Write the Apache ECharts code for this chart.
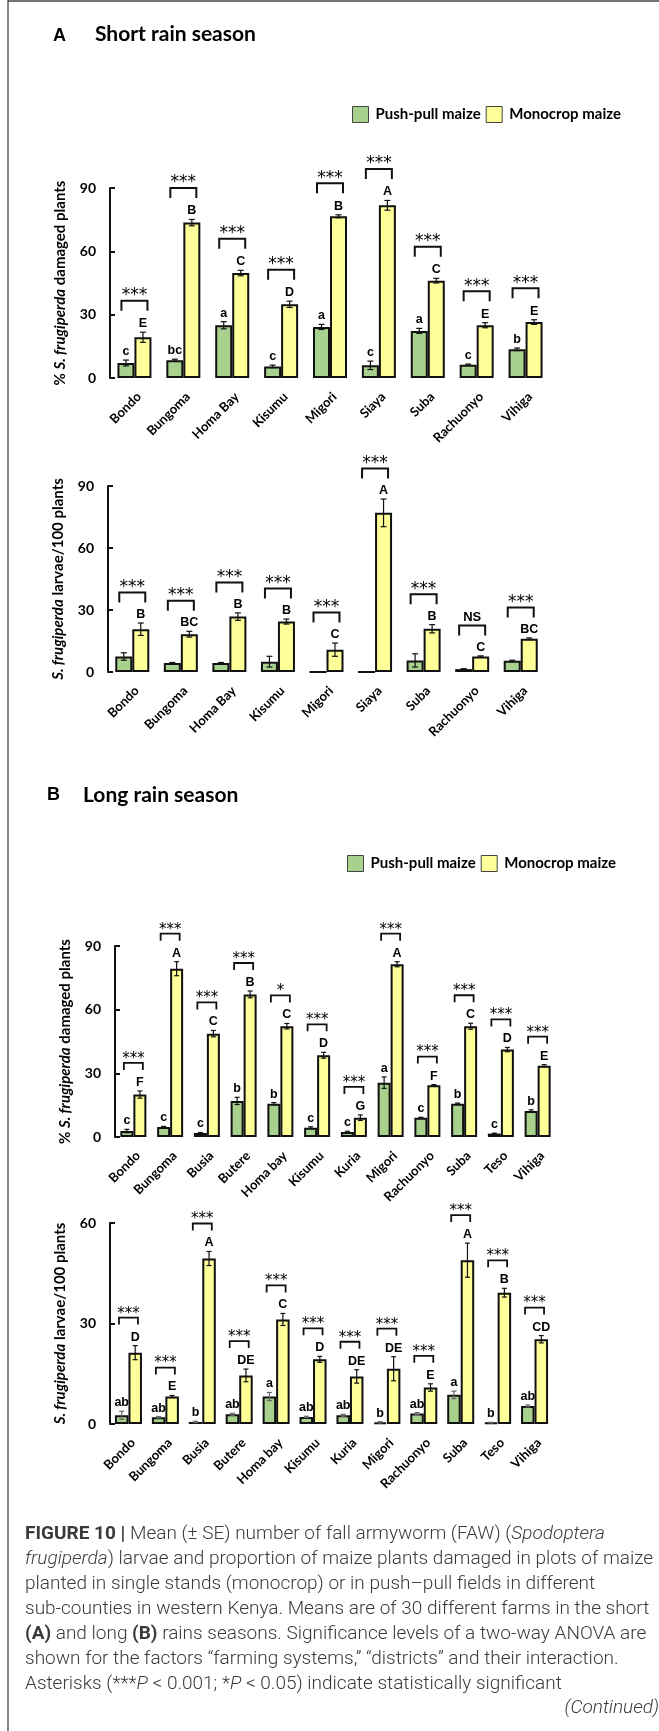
<!DOCTYPE html>
<html>
<head>
<meta charset="utf-8">
<script src="https://cdn.jsdelivr.net/npm/echarts@6/dist/echarts.min.js"></script>
<style>
  html, body { margin: 0; padding: 0; background: #fff; }
  #chart { width: 659px; height: 1731px; }
</style>
</head>
<body>
<div id="chart"></div>
<script>
// ---------- Short rain season ----------
const districtsShort = ['Bondo', 'Bungoma', 'Homa Bay', 'Kisumu', 'Migori', 'Siaya', 'Suba', 'Rachuonyo', 'Vihiga'];

// % S. frugiperda damaged plants
const damageShortPP = [7.1, 8.4, 25.0, 5.5, 24.2, 6.0, 22.3, 6.3, 13.6];
const damageShortPPSE = [1.4, 0.5, 1.7, 0.6, 1.2, 2.0, 1.2, 0.3, 0.6];
const damageShortMono = [19.3, 73.6, 49.7, 34.9, 76.6, 81.8, 46.1, 25.0, 26.5];
const damageShortMonoSE = [2.4, 1.5, 1.3, 1.5, 0.7, 2.3, 1.1, 1.2, 1.1];
const damageShortPPLetters = ['c', 'bc', 'a', 'c', 'a', 'c', 'a', 'c', 'b'];
const damageShortMonoLetters = ['E', 'B', 'C', 'D', 'B', 'A', 'C', 'E', 'E'];
const damageShortSig = ['***', '***', '***', '***', '***', '***', '***', '***', '***'];

// S. frugiperda larvae / 100 plants
const larvaeShortPP = [7.5, 4.3, 4.3, 5.0, 0, 0, 5.6, 1.4, 5.4];
const larvaeShortPPSE = [1.8, 0.3, 0.3, 2.6, 0, 0, 3.2, 0.2, 0.3];
const larvaeShortMono = [20.7, 18.3, 26.8, 24.4, 10.8, 77.0, 20.9, 7.5, 16.1];
const larvaeShortMonoSE = [3.0, 1.4, 1.8, 1.2, 3.2, 6.7, 2.0, 0.3, 0.4];
const larvaeShortPPLetters = ['', '', '', '', '', '', '', '', ''];
const larvaeShortMonoLetters = ['B', 'BC', 'B', 'B', 'C', 'A', 'B', 'C', 'BC'];
const larvaeShortSig = ['***', '***', '***', '***', '***', '***', '***', 'NS', '***'];

// ---------- Long rain season ----------
const districtsLong = ['Bondo', 'Bungoma', 'Busia', 'Butere', 'Homa bay', 'Kisumu', 'Kuria', 'Migori', 'Rachuonyo', 'Suba', 'Teso', 'Vihiga'];

const damageLongPP = [2.8, 4.7, 1.9, 17.0, 15.7, 4.4, 2.4, 25.6, 9.1, 15.7, 1.6, 12.3];
const damageLongPPSE = [0.8, 0.3, 0.2, 1.7, 0.5, 0.4, 0.3, 2.7, 0.2, 0.3, 0.2, 0.5];
const damageLongMono = [20.0, 79.3, 48.7, 67.2, 52.2, 38.5, 9.1, 81.4, 24.4, 52.2, 41.2, 33.6];
const damageLongMonoSE = [1.7, 3.3, 1.5, 1.6, 1.3, 1.4, 1.3, 1.2, 0.3, 1.4, 1.0, 0.5];
const damageLongPPLetters = ['c', 'c', 'c', 'b', 'b', 'c', 'c', 'a', 'c', 'b', 'c', 'b'];
const damageLongMonoLetters = ['F', 'A', 'C', 'B', 'C', 'D', 'G', 'A', 'F', 'C', 'D', 'E'];
const damageLongSig = ['***', '***', '***', '***', '*', '***', '***', '***', '***', '***', '***', '***'];

const larvaeLongPP = [2.6, 2.0, 0.6, 2.9, 8.2, 2.1, 2.6, 0.5, 3.1, 8.7, 0.4, 5.4];
const larvaeLongPPSE = [1.2, 0.2, 0.2, 0.3, 1.2, 0.2, 0.3, 0.2, 0.3, 1.1, 0.1, 0.3];
const larvaeLongMono = [21.3, 8.2, 49.4, 14.5, 31.2, 19.3, 14.2, 16.5, 10.9, 48.9, 39.2, 25.3];
const larvaeLongMonoSE = [2.1, 0.3, 2.1, 1.9, 1.8, 0.9, 2.0, 3.6, 1.1, 5.1, 1.3, 1.1];
const larvaeLongPPLetters = ['ab', 'ab', 'b', 'ab', 'a', 'ab', 'ab', 'b', 'ab', 'a', 'b', 'ab'];
const larvaeLongMonoLetters = ['D', 'E', 'A', 'DE', 'C', 'D', 'DE', 'DE', 'E', 'A', 'B', 'CD'];
const larvaeLongSig = ['***', '***', '***', '***', '***', '***', '***', '***', '***', '***', '***', '***'];

// Axis ticks
const damageTicks = { min: 0, max: 90, interval: 30 };
const larvaeShortTicks = { min: 0, max: 90, interval: 30 };
const larvaeLongTicks = { min: 0, max: 60, interval: 30 };

const SERIES_PP = 'Push-pull maize';
const SERIES_MONO = 'Monocrop maize';
const GREEN = '#a9d18e';
const YELLOW = '#ffff99';
const INK = '#111';
const CALIBRI = 'Lato, "Open Sans", sans-serif';
const ARIAL = '"Liberation Sans", Arial, sans-serif';

// Panel definitions (data) and their drawing styles
const panels = [
  {
    cats: districtsShort, pp: damageShortPP, ppSE: damageShortPPSE, mono: damageShortMono, monoSE: damageShortMonoSE,
    ppLet: damageShortPPLetters, monoLet: damageShortMonoLetters, sig: damageShortSig, ticks: damageTicks,
    title: '% {i|S. frugiperda} damaged plants',
    grid: { left: 110, top: 188, width: 440, height: 190 },
    st: { barW: 17, cap: 3, bw: 26, leg: 10, lw: 2, labelGap: 8.5, bracketGap: 23, starSize: 17, starGap: 5, ppErr: INK }
  },
  {
    cats: districtsShort, pp: larvaeShortPP, ppSE: larvaeShortPPSE, mono: larvaeShortMono, monoSE: larvaeShortMonoSE,
    ppLet: larvaeShortPPLetters, monoLet: larvaeShortMonoLetters, sig: larvaeShortSig, ticks: larvaeShortTicks,
    title: '{i|S. frugiperda} larvae/100 plants',
    grid: { left: 108, top: 486, width: 437, height: 186 },
    st: { barW: 17, cap: 3, bw: 26, leg: 10, lw: 2, labelGap: 8.5, bracketGap: 22, starSize: 17, starGap: 5, ppErr: INK }
  },
  {
    cats: districtsLong, pp: damageLongPP, ppSE: damageLongPPSE, mono: damageLongMono, monoSE: damageLongMonoSE,
    ppLet: damageLongPPLetters, monoLet: damageLongMonoLetters, sig: damageLongSig, ticks: damageTicks,
    title: '% {i|S. frugiperda} damaged plants',
    grid: { left: 115, top: 946, width: 441, height: 191 },
    st: { barW: 13, cap: 2.5, bw: 19, leg: 7, lw: 1.8, labelGap: 8.5, bracketGap: 19.5, starSize: 15, starGap: 4, ppErr: INK }
  },
  {
    cats: districtsLong, pp: larvaeLongPP, ppSE: larvaeLongPPSE, mono: larvaeLongMono, monoSE: larvaeLongMonoSE,
    ppLet: larvaeLongPPLetters, monoLet: larvaeLongMonoLetters, sig: larvaeLongSig, ticks: larvaeLongTicks,
    title: '{i|S. frugiperda} larvae/100 plants',
    grid: { left: 110, top: 1223, width: 443, height: 201 },
    st: { barW: 13.5, cap: 2.5, bw: 19, leg: 7, lw: 1.8, labelGap: 8.5, bracketGap: 19.5, starSize: 15, starGap: 4, ppErr: '#666' }
  }
];

function annotationSeries(gi, p) {
  const s = p.st;
  return {
    type: 'custom', xAxisIndex: gi, yAxisIndex: gi, z: 5, silent: true,
    data: p.cats.map((_, i) => i),
    renderItem: function (params, api) {
      const i = params.dataIndex;
      const xc = api.coord([i, 0])[0];
      const xg = xc - s.barW / 2, xm = xc + s.barW / 2;
      const kids = [];
      function errBar(x, v, se, col) {
        const yTop = api.coord([i, v + se])[1];
        if (se > 0) {
          const yBot = api.coord([i, Math.max(0, v - se)])[1];
          const st = { stroke: col, lineWidth: 1.2 };
          kids.push({ type: 'line', shape: { x1: x, y1: yTop, x2: x, y2: yBot }, style: st });
          kids.push({ type: 'line', shape: { x1: x - s.cap, y1: yTop, x2: x + s.cap, y2: yTop }, style: st });
          kids.push({ type: 'line', shape: { x1: x - s.cap, y1: yBot, x2: x + s.cap, y2: yBot }, style: st });
        }
        return yTop;
      }
      function letter(x, y, t) {
        if (!t) return;
        kids.push({ type: 'text', style: { text: t, x: x, y: y, align: 'center', verticalAlign: 'middle',
          font: 'bold 12.5px ' + ARIAL, fill: '#000' } });
      }
      const gTop = errBar(xg, p.pp[i], p.ppSE[i], s.ppErr);
      const mTop = errBar(xm, p.mono[i], p.monoSE[i], INK);
      letter(xg, gTop - s.labelGap, p.ppLet[i]);
      const mLab = mTop - s.labelGap;
      letter(xm, mLab, p.monoLet[i]);
      // significance bracket above the pair
      const bTop = mLab - s.bracketGap;
      kids.push({ type: 'polyline', shape: { points: [
        [xc - s.bw / 2, bTop + s.leg], [xc - s.bw / 2, bTop], [xc + s.bw / 2, bTop], [xc + s.bw / 2, bTop + s.leg]
      ] }, style: { stroke: INK, lineWidth: s.lw, fill: null } });
      const sig = p.sig[i];
      const isStar = sig.indexOf('*') >= 0;
      kids.push({ type: 'text', style: {
        text: sig, x: xc, y: isStar ? bTop - s.starGap : bTop - 8, align: 'center', verticalAlign: 'middle',
        font: (isStar ? 'normal ' + s.starSize + 'px "DejaVu Sans", sans-serif' : 'bold 13px ' + ARIAL), fill: '#000'
      } });
      return { type: 'group', children: kids };
    }
  };
}

const grids = [], xAxes = [], yAxes = [], series = [];
panels.forEach(function (p, gi) {
  grids.push(Object.assign({ containLabel: false }, p.grid));
  xAxes.push({
    type: 'category', gridIndex: gi, data: p.cats,
    axisLine: { show: false }, axisTick: { show: false },
    axisLabel: { interval: 0, rotate: 45, margin: 12, verticalAlign: 'top',
      fontFamily: CALIBRI, fontWeight: 'bold', fontSize: 13, color: '#000' }
  });
  yAxes.push({
    type: 'value', gridIndex: gi, min: p.ticks.min, max: p.ticks.max, interval: p.ticks.interval,
    splitLine: { show: false },
    axisLine: { show: true, lineStyle: { color: INK, width: 2 } },
    axisTick: { show: true, inside: true, length: 5, lineStyle: { color: INK, width: 2 } },
    axisLabel: { margin: 14, fontFamily: CALIBRI, fontWeight: 'bold', fontSize: 14, color: '#000' },
    name: p.title, nameLocation: 'middle', nameGap: 42, nameRotate: 90,
    nameTextStyle: { fontFamily: CALIBRI, fontWeight: 'bold', fontSize: 15, color: '#000',
      rich: { i: { fontFamily: CALIBRI, fontWeight: 'bold', fontStyle: 'italic', fontSize: 15, color: '#000' } } }
  });
  const common = { type: 'bar', xAxisIndex: gi, yAxisIndex: gi, barWidth: p.st.barW, barGap: '0%', silent: true };
  series.push(Object.assign({}, common, { name: SERIES_PP, data: p.pp,
    itemStyle: { color: GREEN, borderColor: INK, borderWidth: 2 } }));
  series.push(Object.assign({}, common, { name: SERIES_MONO, data: p.mono,
    itemStyle: { color: YELLOW, borderColor: INK, borderWidth: 2 } }));
  series.push(annotationSeries(gi, p));
});

function legendAt(top, left) {
  return {
    top: top, left: left, orient: 'horizontal', selectedMode: false,
    itemWidth: 16, itemHeight: 16, itemGap: 5,
    icon: 'rect',
    itemStyle: { borderColor: '#444', borderWidth: 1 },
    textStyle: { fontFamily: CALIBRI, fontWeight: 'bold', fontSize: 15, color: '#000', padding: [0, 0, 0, 2] },
    data: [SERIES_PP, SERIES_MONO]
  };
}

// Caption text with rich segments
const CAP_FONT = 'Roboto, sans-serif';
const CAP_SIZE = 19;
const CAP_COLOR = '#3a3a3a';
const capBase = { fontFamily: CAP_FONT, fontWeight: 300, fontSize: CAP_SIZE, fill: CAP_COLOR };
const capRich = {
  b: { fontFamily: CAP_FONT, fontWeight: 'bold', fontSize: CAP_SIZE, color: '#222' },
  i: { fontFamily: CAP_FONT, fontWeight: 300, fontStyle: 'italic', fontSize: CAP_SIZE, color: CAP_COLOR }
};
const captionLines = [
  '{b|FIGURE 10 |} Mean (± SE) number of fall armyworm (FAW) ({i|Spodoptera}',
  '{i|frugiperda}) larvae and proportion of maize plants damaged in plots of maize',
  'planted in single stands (monocrop) or in push–pull fields in different',
  'sub-counties in western Kenya. Means are of 30 different farms in the short',
  '{b|(A)} and long {b|(B)} rains seasons. Significance levels of a two-way ANOVA are',
  'shown for the factors “farming systems,” “districts” and their interaction.',
  'Asterisks (***{i|P} < 0.001; *{i|P} < 0.05) indicate statistically significant'
];

const graphics = [
  { type: 'line', shape: { x1: 8, y1: 0, x2: 8, y2: 1731 }, style: { stroke: '#444', lineWidth: 1.3 } },
  { type: 'line', shape: { x1: 8, y1: 1, x2: 659, y2: 1 }, style: { stroke: '#444', lineWidth: 1.3 } },
  { type: 'text', x: 53, y: 36, style: { text: 'A', font: 'bold 18px ' + ARIAL, fill: '#000', verticalAlign: 'middle' } },
  { type: 'text', x: 95, y: 34, style: { text: 'Short rain season', font: 'bold 21px ' + CALIBRI, fill: '#000', verticalAlign: 'middle' } },
  { type: 'text', x: 47, y: 795, style: { text: 'B', font: 'bold 18px ' + ARIAL, fill: '#000', verticalAlign: 'middle' } },
  { type: 'text', x: 83, y: 795, style: { text: 'Long rain season', font: 'bold 21px ' + CALIBRI, fill: '#000', verticalAlign: 'middle' } },
  { type: 'text', x: 659, y: 1708, style: { text: '(Continued)', font: 'italic 300 ' + CAP_SIZE + 'px ' + CAP_FONT, fill: CAP_COLOR, align: 'right', verticalAlign: 'middle' } }
];
captionLines.forEach(function (t, k) {
  graphics.push({ type: 'text', x: 25, y: 1534 + k * 25, style: Object.assign({ text: t, rich: capRich, verticalAlign: 'middle' }, capBase) });
});

const chart = echarts.init(document.getElementById('chart'), null, { renderer: 'canvas' });
chart.setOption({
  backgroundColor: '#fff',
  animation: false,
  legend: [legendAt(101, 347), legendAt(850, 342)],
  grid: grids,
  xAxis: xAxes,
  yAxis: yAxes,
  series: series,
  graphic: graphics
});
</script>
</body>
</html>
